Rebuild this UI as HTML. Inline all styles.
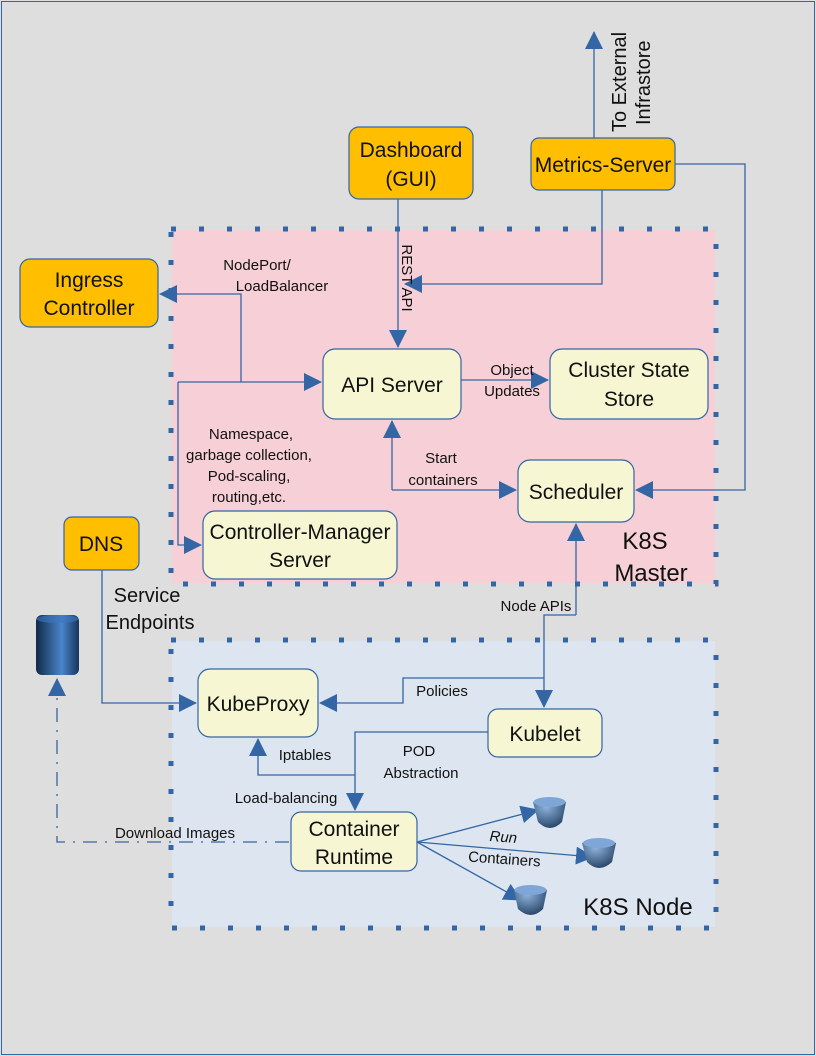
<!DOCTYPE html>
<html><head><meta charset="utf-8"><style>
html,body{margin:0;padding:0;background:#dedede}
svg{display:block}
text{font-family:"Liberation Sans",sans-serif;fill:#111}
</style></head><body>
<svg width="816" height="1056" viewBox="0 0 816 1056" xmlns="http://www.w3.org/2000/svg">
<defs>
<marker id="b" markerWidth="18" markerHeight="18" refX="17" refY="9" orient="auto" markerUnits="userSpaceOnUse" viewBox="0 0 18 18"><path d="M0,0 L18,9 L0,18 z" fill="#3465a4"/></marker>
<radialGradient id="cup" cx="0.4" cy="0.3" r="0.8"><stop offset="0" stop-color="#8fb3dd"/><stop offset="1" stop-color="#1d3a5c"/></radialGradient>
<linearGradient id="cyl" x1="0" x2="1"><stop offset="0" stop-color="#112a48"/><stop offset="0.6" stop-color="#4a85cc"/><stop offset="1" stop-color="#16355a"/></linearGradient>
</defs>
<rect x="0" y="0" width="816" height="1056" fill="#dedede"/>
<rect x="1.5" y="1.5" width="813" height="1053" fill="none" stroke="#3465a4" stroke-width="1"/>
<rect x="172" y="230" width="543" height="353" fill="#f6d0d6"/>
<rect x="171" y="229" width="545" height="355" fill="none" stroke="#3465a4" stroke-width="5" stroke-dasharray="5,23"/>
<rect x="172" y="641" width="543" height="286" fill="#dde6f0"/>
<rect x="171" y="640" width="545" height="288" fill="none" stroke="#3465a4" stroke-width="5" stroke-dasharray="5,23"/>

<g stroke="#3465a4" stroke-width="1.3" fill="none">
<path d="M398 199 V347" marker-end="url(#b)"/>
<path d="M602 190 V284 H405" marker-end="url(#b)"/>
<path d="M594 138 V32" marker-end="url(#b)"/>
<path d="M675 164 H745 V490 H636" marker-end="url(#b)"/>
<path d="M178 382 H321" marker-end="url(#b)"/>
<path d="M178 382 V545 H201" marker-end="url(#b)"/>
<path d="M241 382 V294 H160" marker-end="url(#b)"/>
<path d="M461 380 H548" marker-end="url(#b)"/>
<path d="M392 490 V421" marker-end="url(#b)"/>
<path d="M392 490 H516" marker-end="url(#b)"/>
<path d="M576 615 V524" marker-end="url(#b)"/>
<path d="M576 615 H544 V707" marker-end="url(#b)"/>
<path d="M544 678 H403 V703 H320" marker-end="url(#b)"/>
<path d="M488 732 H355 V810" marker-end="url(#b)"/>
<path d="M355 775 H258 V739" marker-end="url(#b)"/>
<path d="M102 570 V703 H196" marker-end="url(#b)"/>
<path d="M289 842 H57 V679" stroke-dasharray="14,8,2,8" marker-end="url(#b)"/>
<path d="M417 842 L538 810" marker-end="url(#b)"/>
<path d="M417 842 L593 857" marker-end="url(#b)"/>
<path d="M417 842 L521 900" marker-end="url(#b)"/>
</g>

<g stroke="#3465a4" stroke-width="1.2">
<rect x="349" y="127" width="124" height="72" rx="10" fill="#ffbf00"/>
<rect x="531" y="138" width="144" height="52" rx="8" fill="#ffbf00"/>
<rect x="20" y="259" width="138" height="68" rx="10" fill="#ffbf00"/>
<rect x="64" y="517" width="75" height="53" rx="8" fill="#ffbf00"/>
<rect x="323" y="349" width="138" height="70" rx="12" fill="#f6f7d2"/>
<rect x="550" y="349" width="158" height="70" rx="12" fill="#f6f7d2"/>
<rect x="518" y="460" width="116" height="62" rx="12" fill="#f6f7d2"/>
<rect x="203" y="511" width="194" height="68" rx="12" fill="#f6f7d2"/>
<rect x="198" y="669" width="120" height="68" rx="12" fill="#f6f7d2"/>
<rect x="488" y="709" width="114" height="48" rx="10" fill="#f6f7d2"/>
<rect x="291" y="812" width="126" height="59" rx="10" fill="#f6f7d2"/>
</g>

<rect x="36" y="615" width="43" height="60" rx="6" fill="url(#cyl)"/>
<ellipse cx="57.5" cy="619" rx="21" ry="4" fill="#3e78bf" opacity="0.6"/>
<g>
<path d="M533 802 Q549 794 566 802 L562 822 Q550 834 538 822 Z" fill="url(#cup)"/>
<ellipse cx="549.5" cy="802" rx="16" ry="5" fill="#7ea6d6"/>
<path d="M582 843 Q599 835 616 843 L612 862 Q599 874 587 862 Z" fill="url(#cup)"/>
<ellipse cx="599" cy="843" rx="16" ry="5" fill="#7ea6d6"/>
<path d="M514 890 Q531 882 547 890 L543 909 Q531 921 518 909 Z" fill="url(#cup)"/>
<ellipse cx="530.5" cy="890" rx="16" ry="5" fill="#7ea6d6"/>
</g>

<g font-size="21" text-anchor="middle">
<text x="411" y="157">Dashboard</text><text x="411" y="186">(GUI)</text>
<text x="603" y="172">Metrics-Server</text>
<text x="89" y="287">Ingress</text><text x="89" y="315">Controller</text>
<text x="101" y="551">DNS</text>
<text x="392" y="392">API Server</text>
<text x="629" y="377">Cluster State</text><text x="629" y="406">Store</text>
<text x="576" y="499">Scheduler</text>
<text x="300" y="539">Controller-Manager</text><text x="300" y="567">Server</text>
<text x="258" y="711">KubeProxy</text>
<text x="545" y="741">Kubelet</text>
<text x="354" y="836">Container</text><text x="354" y="864">Runtime</text>
</g>
<g font-size="24" text-anchor="middle">
<text x="645" y="549">K8S</text><text x="651" y="581">Master</text>
<text x="638" y="915">K8S Node</text>
</g>
<g font-size="20" text-anchor="middle">
<text x="147" y="602">Service</text><text x="150" y="629">Endpoints</text>
</g>
<g font-size="20">
<text transform="translate(626,132) rotate(-90)">To External</text>
<text transform="translate(650,125) rotate(-90)">Infrastore</text>
</g>
<g font-size="15" text-anchor="middle">
<text transform="translate(402,278) rotate(90)">REST API</text>
<text x="257" y="270">NodePort/</text><text x="282" y="291">LoadBalancer</text>
<text x="512" y="375">Object</text><text x="512" y="396">Updates</text>
<text x="251" y="439">Namespace,</text>
<text x="249" y="460">garbage collection,</text>
<text x="249" y="481">Pod-scaling,</text>
<text x="249" y="502">routing,etc.</text>
<text x="441" y="463">Start</text><text x="443" y="485">containers</text>
<text x="536" y="611">Node APIs</text>
<text x="442" y="696">Policies</text>
<text x="305" y="760">Iptables</text>
<text x="419" y="756">POD</text><text x="421" y="778">Abstraction</text>
<text x="286" y="803">Load-balancing</text>
<text x="175" y="838">Download Images</text>
<text transform="translate(503,842) rotate(4)" font-style="italic">Run</text>
<text transform="translate(504,864) rotate(4)">Containers</text>
</g>
</svg>
</body></html>
